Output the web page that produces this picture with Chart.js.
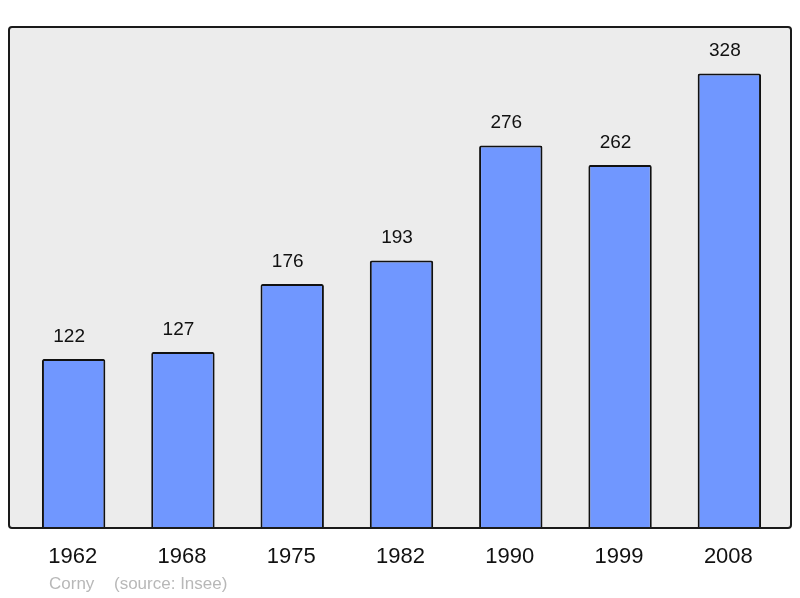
<!DOCTYPE html>
<html>
<head>
<meta charset="utf-8">
<script src="https://cdn.jsdelivr.net/npm/chart.js@4/dist/chart.umd.min.js"></script>
<style>
  html, body { margin: 0; padding: 0; background: #fff; }
  #wrap { width: 800px; height: 598px; position: relative; }
</style>
</head>
<body>
<div id="wrap"><canvas id="chart"></canvas></div>
<script>
// Population data
const years = ["1962", "1968", "1975", "1982", "1990", "1999", "2008"];
const population = [122, 127, 176, 193, 276, 262, 328];
const placeName = "Corny";
const sourceText = "(source: Insee)";

// Grey frame behind the bars
const framePlugin = {
  id: "frame",
  beforeDatasetsDraw(chart) {
    const ctx = chart.ctx;
    ctx.save();
    ctx.fillStyle = "#ececec";
    ctx.beginPath();
    ctx.roundRect(9, 27, 782, 501, 3);
    ctx.fill();
    ctx.restore();
  },
  afterDatasetsDraw(chart) {
    const ctx = chart.ctx;
    ctx.save();
    ctx.strokeStyle = "#1a1a1a";
    ctx.lineWidth = 2;
    ctx.beginPath();
    ctx.roundRect(9, 27, 782, 501, 3);
    ctx.stroke();
    ctx.restore();
  }
};

// Value labels, year labels and footer
const labelPlugin = {
  id: "labels",
  afterDraw(chart) {
    const ctx = chart.ctx;
    const meta = chart.getDatasetMeta(0);
    const xScale = chart.scales.x;
    ctx.save();
    ctx.textAlign = "center";
    ctx.textBaseline = "middle";
    ctx.fillStyle = "#111";
    ctx.font = "19px 'Liberation Sans', Arial, sans-serif";
    meta.data.forEach((bar, i) => {
      ctx.fillText(String(population[i]), bar.x - 4.5, bar.y - 22.5);
    });
    ctx.font = "22px 'Liberation Sans', Arial, sans-serif";
    years.forEach((y, i) => {
      ctx.fillText(y, xScale.getPixelForValue(i) - 1, 557);
    });
    ctx.textAlign = "left";
    ctx.fillStyle = "#b8b8b8";
    ctx.font = "17px 'Liberation Sans', Arial, sans-serif";
    ctx.fillText(placeName, 49, 584);
    ctx.fillText(sourceText, 114, 584);
    ctx.restore();
  }
};

new Chart(document.getElementById("chart"), {
  type: "bar",
  data: {
    labels: years,
    datasets: [{
      data: population,
      backgroundColor: "#7097ff",
      borderColor: "#111",
      borderWidth: 2,
      borderRadius: 2,
      barPercentage: 0.58,
      categoryPercentage: 1
    }]
  },
  options: {
    responsive: true,
    maintainAspectRatio: false,
    animation: false,
    layout: { padding: { left: 19, right: 16, top: 27, bottom: 70 } },
    plugins: { legend: { display: false }, tooltip: { enabled: false } },
    scales: {
      x: { display: false },
      y: { display: false, min: 0, max: 361.5 }
    }
  },
  plugins: [framePlugin, labelPlugin]
});
</script>
</body>
</html>
